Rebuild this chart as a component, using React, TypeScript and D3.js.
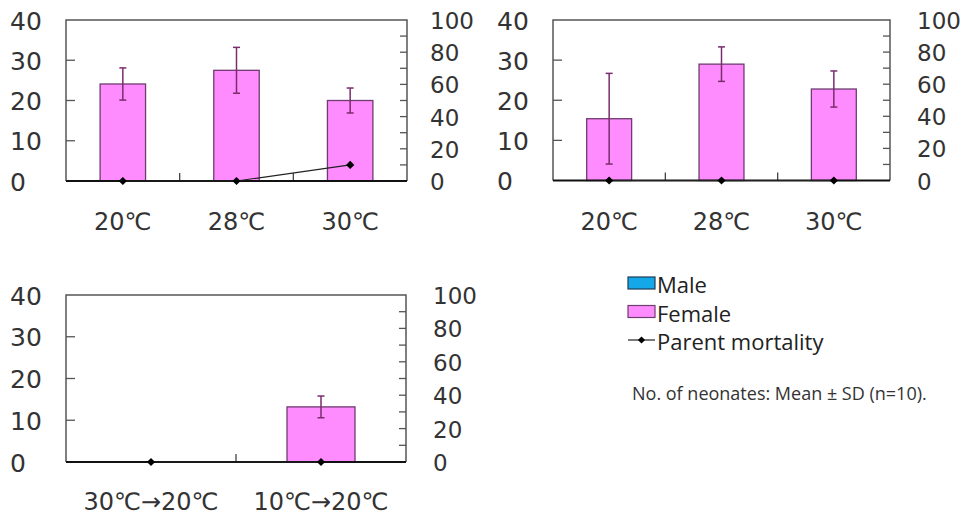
import React from "react";
import * as d3 from "d3";

// ---------- data ----------
const panel1Categories = ["20℃", "28℃", "30℃"];
const panel1Female = [24.1, 27.5, 20.0];
const panel1SD = [4.0, 5.7, 3.1];
const panel1Mortality = [0, 0, 10];

const panel2Categories = ["20℃", "28℃", "30℃"];
const panel2Female = [15.4, 29.0, 22.8];
const panel2SD = [11.3, 4.3, 4.5];
const panel2Mortality = [0, 0, 0];

const panel3Categories = ["30℃→20℃", "10℃→20℃"];
const panel3Female: (number | null)[] = [null, 13.2];
const panel3SD: (number | null)[] = [null, 2.6];
const panel3Mortality = [0, 0];

const leftTicks = [0, 10, 20, 30, 40];
const rightTicks = [0, 20, 40, 60, 80, 100];
const rightMinorTicks = [10, 20, 30, 40, 50, 60, 70, 80, 90];

const legendLabels = ["Male", "Female", "Parent mortality"];
const noteText = "No. of neonates: Mean ± SD (n=10).";

// ---------- styles ----------
const FEMALE_FILL = "#ff8cff";
const MALE_FILL = "#14a8e8";
const BAR_STROKE = "#6e3c6e";
const ERR_COLOR = "#7a2c6c";
const AXIS_FONT = "DejaVu Sans, Verdana, sans-serif";
const LEGEND_FONT = "'Open Sans', 'Noto Sans', sans-serif";

type PanelProps = {
  left: number;
  right: number;
  top: number;
  bottom: number;
  leftLabelX: number;
  rightLabelX: number;
  catLabelY: number;
  categories: string[];
  female: (number | null)[];
  sd: (number | null)[];
  mortality: number[];
};

const marker = d3.symbol(d3.symbolSquare, 34)();

function Panel(p: PanelProps) {
  const x = d3
    .scaleBand<string>()
    .domain(p.categories)
    .range([p.left, p.right])
    .paddingInner(0.6)
    .paddingOuter(0.3);
  const step = x.step();
  const y = d3.scaleLinear().domain([0, 40]).range([p.bottom, p.top]);
  const y2 = d3.scaleLinear().domain([0, 100]).range([p.bottom, p.top]);

  const line = d3
    .line<number>()
    .x((_, i) => (x(p.categories[i]) as number) + x.bandwidth() / 2)
    .y((d) => y2(d));

  return (
    <g>
      {/* bars */}
      {p.female.map((v, i) =>
        v == null ? null : (
          <rect
            key={"b" + i}
            x={x(p.categories[i])}
            y={y(v)}
            width={x.bandwidth()}
            height={y(0) - y(v)}
            fill={FEMALE_FILL}
            stroke={BAR_STROKE}
            strokeWidth={1.3}
          />
        )
      )}
      {/* error bars */}
      {p.female.map((v, i) => {
        const s = p.sd[i];
        if (v == null || s == null) return null;
        const cx = (x(p.categories[i]) as number) + x.bandwidth() / 2;
        return (
          <g key={"e" + i} stroke={ERR_COLOR} strokeWidth={1.5}>
            <line x1={cx} x2={cx} y1={y(v + s)} y2={y(Math.max(0, v - s))} />
            <line x1={cx - 3.5} x2={cx + 3.5} y1={y(v + s)} y2={y(v + s)} />
            <line
              x1={cx - 3.5}
              x2={cx + 3.5}
              y1={y(Math.max(0, v - s))}
              y2={y(Math.max(0, v - s))}
            />
          </g>
        );
      })}
      {/* plot frame */}
      <path
        d={`M${p.left},${p.bottom}V${p.top}H${p.right}V${p.bottom}`}
        fill="none"
        stroke="#555"
        strokeWidth={1.5}
      />
      {/* left inner ticks */}
      {leftTicks
        .filter((t) => t > 0 && t < 40)
        .map((t) => (
          <line
            key={"lt" + t}
            x1={p.left}
            x2={p.left + 9}
            y1={y(t)}
            y2={y(t)}
            stroke="#555"
            strokeWidth={1.3}
          />
        ))}
      {/* right inner ticks */}
      {rightMinorTicks.map((t) => (
        <line
          key={"rt" + t}
          x1={p.right - 7}
          x2={p.right}
          y1={y2(t)}
          y2={y2(t)}
          stroke="#555"
          strokeWidth={1.3}
        />
      ))}
      {/* category separators */}
      {p.categories.slice(1).map((c, i) => {
        const bx = p.left + step * (i + 1);
        return (
          <line
            key={"sep" + i}
            x1={bx}
            x2={bx}
            y1={p.bottom}
            y2={p.bottom - 8}
            stroke="#444"
            strokeWidth={1.3}
          />
        );
      })}
      {/* zero line */}
      <line
        x1={p.left}
        x2={p.right}
        y1={p.bottom}
        y2={p.bottom}
        stroke="#111"
        strokeWidth={2}
      />
      {/* mortality */}
      <path d={line(p.mortality) || ""} fill="none" stroke="#222" strokeWidth={1.2} />
      {p.mortality.map((m, i) => (
        <path
          key={"m" + i}
          d={marker || ""}
          transform={`translate(${(x(p.categories[i]) as number) + x.bandwidth() / 2},${y2(m)}) rotate(45)`}
          fill="#000"
        />
      ))}
      {/* left labels */}
      {leftTicks.map((t) => (
        <text
          key={"ll" + t}
          x={p.leftLabelX}
          y={y(t) + 1}
          dominantBaseline="central"
          fontFamily={AXIS_FONT}
          fontSize={25}
          fill="#333"
        >
          {t}
        </text>
      ))}
      {/* right labels */}
      {rightTicks.map((t) => (
        <text
          key={"rl" + t}
          x={p.rightLabelX}
          y={y2(t) + 1}
          dominantBaseline="central"
          fontFamily={AXIS_FONT}
          fontSize={23}
          fill="#333"
        >
          {t}
        </text>
      ))}
      {/* category labels */}
      {p.categories.map((c) => (
        <text
          key={"c" + c}
          x={(x(c) as number) + x.bandwidth() / 2}
          y={p.catLabelY}
          textAnchor="middle"
          dominantBaseline="central"
          fontFamily={AXIS_FONT}
          fontSize={24}
          fill="#333"
        >
          {c}
        </text>
      ))}
    </g>
  );
}

export default function App() {
  const legendColors = [MALE_FILL, FEMALE_FILL];
  const legendY = d3.scaleLinear().domain([0, 2]).range([283, 340]);
  const legendMarker = d3.symbol(d3.symbolSquare, 26)();
  return (
    <svg
      width={967}
      height={517}
      style={{ position: "absolute", left: 0, top: 0, background: "#fff" }}
    >
      <rect width={967} height={517} fill="#fff" />
      <Panel
        left={66}
        right={407}
        top={20}
        bottom={181}
        leftLabelX={10}
        rightLabelX={430}
        catLabelY={222}
        categories={panel1Categories}
        female={panel1Female}
        sd={panel1SD}
        mortality={panel1Mortality}
      />
      <Panel
        left={553}
        right={890}
        top={20}
        bottom={180.5}
        leftLabelX={497}
        rightLabelX={917}
        catLabelY={222}
        categories={panel2Categories}
        female={panel2Female}
        sd={panel2SD}
        mortality={panel2Mortality}
      />
      <Panel
        left={66}
        right={406}
        top={295}
        bottom={462}
        leftLabelX={10}
        rightLabelX={433}
        catLabelY={502}
        categories={panel3Categories}
        female={panel3Female}
        sd={panel3SD}
        mortality={panel3Mortality}
      />
      {/* legend */}
      {legendLabels.map((l, i) => {
        const cy = legendY(i);
        return (
          <g key={l}>
            {i < 2 ? (
              <rect
                x={628}
                y={cy - 6}
                width={27}
                height={12}
                fill={legendColors[i]}
                stroke={i === 0 ? "#1c3d5a" : BAR_STROKE}
                strokeWidth={1.2}
              />
            ) : (
              <g>
                <line x1={628} x2={655} y1={cy} y2={cy} stroke="#222" strokeWidth={1.2} />
                <path
                  d={legendMarker || ""}
                  transform={`translate(641.5,${cy}) rotate(45)`}
                  fill="#000"
                />
              </g>
            )}
            <text
              x={657}
              y={cy + 1}
              dominantBaseline="central"
              fontFamily={LEGEND_FONT}
              fontSize={22}
              fill="#222"
            >
              {l}
            </text>
          </g>
        );
      })}
      <text
        x={632}
        y={393}
        dominantBaseline="central"
        fontFamily={LEGEND_FONT}
        fontSize={18}
        fill="#333"
      >
        {noteText}
      </text>
    </svg>
  );
}
